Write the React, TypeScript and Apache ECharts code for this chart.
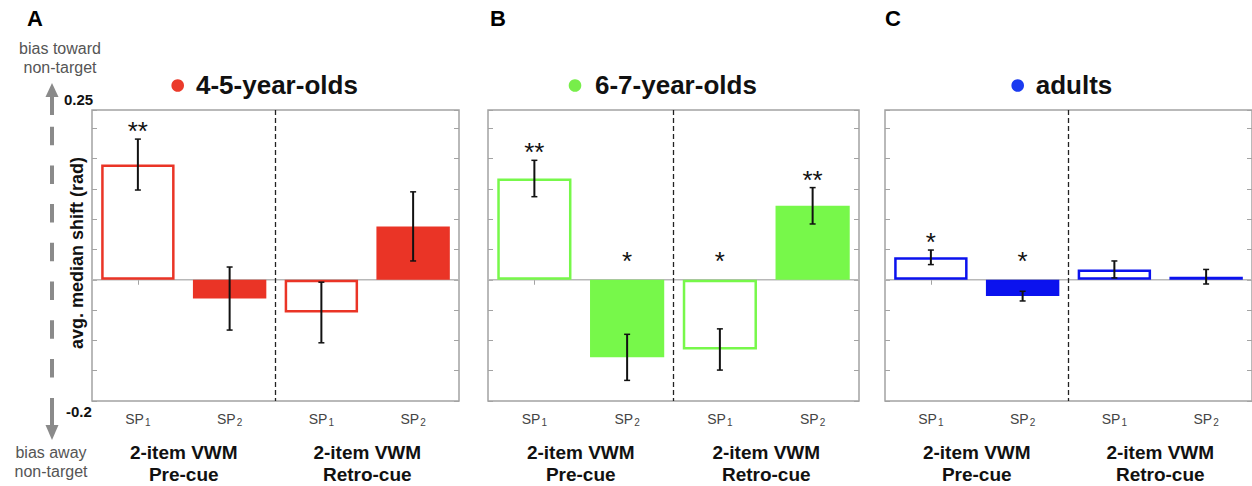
import { useEffect, useRef } from "react";
import * as echarts from "echarts";

// ---------- data ----------
const CATEGORIES = ["SP1", "SP2", "SP1", "SP2"];
const GROUP_LABELS = ["2-item VWM\nPre-cue", "2-item VWM\nRetro-cue"];
const FILLED = [false, true, false, true];

const PANEL_LETTERS = ["A", "B", "C"];
const PANEL_TITLES = ["4-5-year-olds", "6-7-year-olds", "adults"];

const MEANS_A = [0.19, -0.031, -0.054, 0.088];
const ERRS_A = [0.042, 0.052, 0.05, 0.057];
const SIG_A = ["**", "", "", ""];

const MEANS_B = [0.167, -0.128, -0.115, 0.122];
const ERRS_B = [0.03, 0.038, 0.034, 0.03];
const SIG_B = ["**", "*", "*", "**"];

const MEANS_C = [0.037, -0.027, 0.017, 0.005];
const ERRS_C = [0.012, 0.008, 0.014, 0.012];
const SIG_C = ["*", "*", "", ""];

const Y_MIN = -0.2;
const Y_MAX = 0.28;
const Y_STEP = 0.05;
const Y_TOP_LABEL = "0.25";
const Y_BOTTOM_LABEL = "-0.2";
const Y_NAME = "avg. median shift (rad)";
const BIAS_TOWARD = "bias toward\nnon-target";
const BIAS_AWAY = "bias away\nnon-target";

// ---------- styling / layout ----------
const FONT = "'Liberation Sans', Arial, Helvetica, sans-serif";
const BAR_COLORS = ["#EA3426", "#77F84A", "#0B12EE"];
const DOT_COLORS = ["#EB3B2B", "#77EE4A", "#1B3BF0"];
const GRID_TOP = 110;
const GRID_H = 291;
const GRIDS = [
  { left: 92, width: 367 },
  { left: 488, width: 371 },
  { left: 885, width: 367 },
];
const TITLE_DOT_X = [177.7, 575, 1017.7];
const TITLE_TEXT_X = [196, 595, 1035.7];
const LETTER_X = [27, 490, 885];
const AXIS_GRAY = "#a3a3a3";

const PANELS = [
  { means: MEANS_A, errs: ERRS_A, sig: SIG_A },
  { means: MEANS_B, errs: ERRS_B, sig: SIG_B },
  { means: MEANS_C, errs: ERRS_C, sig: SIG_C },
];

function buildOption() {
  const grid: any[] = [];
  const xAxis: any[] = [];
  const yAxis: any[] = [];
  const series: any[] = [];
  const graphic: any[] = [];

  const tick = {
    show: true,
    inside: true,
    length: 5,
    alignWithLabel: true,
    interval: (idx: number) => idx === 0,
    lineStyle: { color: AXIS_GRAY, width: 1 },
  };
  const yTick = { show: true, inside: true, length: 5, lineStyle: { color: AXIS_GRAY, width: 1 } };

  PANELS.forEach((p, i) => {
    const g = GRIDS[i];
    const color = BAR_COLORS[i];
    grid.push({
      left: g.left,
      top: GRID_TOP,
      width: g.width,
      height: GRID_H,
      show: true,
      borderColor: AXIS_GRAY,
      borderWidth: 1.5,
      backgroundColor: "#fff",
    });
    xAxis.push({
      type: "category",
      gridIndex: i,
      data: CATEGORIES,
      position: "bottom",
      axisLine: { show: false },
      axisTick: tick,
      axisLabel: {
        margin: 10,
        formatter: (v: string) => `{m|${v.slice(0, 2)}}{s|${v.slice(2)}}`,
        rich: {
          m: { fontSize: 14, color: "#444", fontFamily: FONT },
          s: { fontSize: 10, color: "#444", fontFamily: FONT, padding: [6, 0, 0, 1] },
        },
      },
    });
    xAxis.push({
      type: "category",
      gridIndex: i,
      data: CATEGORIES,
      position: "top",
      axisLine: { show: false },
      axisTick: tick,
      axisLabel: { show: false },
    });
    ["left", "right"].forEach((pos) => {
      yAxis.push({
        type: "value",
        gridIndex: i,
        position: pos,
        min: Y_MIN,
        max: Y_MAX,
        interval: Y_STEP,
        axisLine: { show: false },
        axisTick: yTick,
        axisLabel: { show: false },
        splitLine: { show: false },
      });
    });

    // zero line + group divider
    series.push({
      type: "custom",
      xAxisIndex: 2 * i,
      yAxisIndex: 2 * i,
      silent: true,
      z: 1,
      data: [[0, 0]],
      encode: { x: 0, y: 1 },
      renderItem: (params: any, api: any) => {
        const cs = params.coordSys;
        const y0 = api.coord([0, 0])[1];
        const xa = api.coord([1, 0])[0];
        const xb = api.coord([2, 0])[0];
        const xm = (xa + xb) / 2;
        return {
          type: "group",
          children: [
            {
              type: "line",
              shape: { x1: cs.x, y1: y0, x2: cs.x + cs.width, y2: y0 },
              style: { stroke: "#b8b8b8", lineWidth: 1.5 },
            },
            {
              type: "line",
              shape: { x1: xm, y1: cs.y, x2: xm, y2: cs.y + cs.height },
              style: { stroke: "#222", lineWidth: 1.3, lineDash: [5, 3] },
            },
          ],
        };
      },
    });

    // bars
    series.push({
      type: "bar",
      xAxisIndex: 2 * i,
      yAxisIndex: 2 * i,
      barWidth: "80%",
      z: 2,
      silent: true,
      data: p.means.map((v, k) => ({
        value: v,
        itemStyle: FILLED[k]
          ? { color, borderColor: color, borderWidth: 2 }
          : { color: "#fff", borderColor: color, borderWidth: 2.5 },
      })),
    });

    // error bars + significance
    series.push({
      type: "custom",
      xAxisIndex: 2 * i,
      yAxisIndex: 2 * i,
      silent: true,
      z: 3,
      data: p.means.map((m, k) => [k, m]),
      encode: { x: 0, y: 1 },
      renderItem: (params: any, api: any) => {
        const k = params.dataIndex;
        const m = p.means[k];
        const e = p.errs[k];
        const top = api.coord([k, m + e]);
        const bot = api.coord([k, m - e]);
        const y0 = api.coord([k, 0])[1];
        const x = top[0];
        const cap = 3;
        const children: any[] = [
          { type: "line", shape: { x1: x, y1: top[1], x2: x, y2: bot[1] }, style: { stroke: "#111", lineWidth: 2 } },
          { type: "line", shape: { x1: x - cap, y1: top[1], x2: x + cap, y2: top[1] }, style: { stroke: "#111", lineWidth: 1.5 } },
          { type: "line", shape: { x1: x - cap, y1: bot[1], x2: x + cap, y2: bot[1] }, style: { stroke: "#111", lineWidth: 1.5 } },
        ];
        const s = p.sig[k];
        if (s) {
          const starCenter = m > 0 ? top[1] - 14 : y0 - 25;
          children.push({
            type: "text",
            style: {
              text: s,
              x,
              y: starCenter + 6,
              align: "center",
              verticalAlign: "middle",
              fill: "#111",
              font: `26px ${FONT}`,
            },
          });
        }
        return { type: "group", children };
      },
    });

    // panel letter
    graphic.push({
      type: "text",
      x: LETTER_X[i],
      y: 18,
      style: { text: PANEL_LETTERS[i], font: `bold 22px ${FONT}`, fill: "#000", align: "left", verticalAlign: "middle" },
    });
    // title dot + text
    graphic.push({
      type: "circle",
      shape: { cx: TITLE_DOT_X[i], cy: 85.5, r: 6.3 },
      style: { fill: DOT_COLORS[i] },
    });
    graphic.push({
      type: "text",
      x: TITLE_TEXT_X[i],
      y: 85,
      style: { text: PANEL_TITLES[i], font: `bold 26px ${FONT}`, fill: "#111", align: "left", verticalAlign: "middle" },
    });
    // group labels
    GROUP_LABELS.forEach((lab, gi) => {
      graphic.push({
        type: "text",
        x: g.left + (g.width * (2 * gi + 1)) / 4,
        y: 463,
        style: {
          text: lab,
          font: `bold 19px ${FONT}`,
          lineHeight: 22,
          fill: "#111",
          align: "center",
          verticalAlign: "middle",
        },
      });
    });
  });

  // left annotation
  const ax = 52;
  const arrowGray = "#8a8a8a";
  graphic.push(
    {
      type: "text",
      x: 60,
      y: 57.5,
      style: { text: BIAS_TOWARD, font: `16px ${FONT}`, lineHeight: 19, fill: "#555", align: "center", verticalAlign: "middle" },
    },
    {
      type: "text",
      x: 51,
      y: 461.5,
      style: { text: BIAS_AWAY, font: `16px ${FONT}`, lineHeight: 19, fill: "#555", align: "center", verticalAlign: "middle" },
    },
    {
      type: "polygon",
      shape: { points: [[ax, 83], [ax - 6.5, 97], [ax + 6.5, 97]] },
      style: { fill: arrowGray },
    },
    {
      type: "line",
      shape: { x1: ax, y1: 96, x2: ax, y2: 115 },
      style: { stroke: arrowGray, lineWidth: 4 },
    },
    {
      type: "line",
      shape: { x1: ax, y1: 126.7, x2: ax, y2: 379 },
      style: { stroke: arrowGray, lineWidth: 4, lineDash: [18.5, 20.2] },
    },
    {
      type: "line",
      shape: { x1: ax, y1: 398, x2: ax, y2: 426 },
      style: { stroke: arrowGray, lineWidth: 4 },
    },
    {
      type: "polygon",
      shape: { points: [[ax, 440], [ax - 6.5, 425], [ax + 6.5, 425]] },
      style: { fill: arrowGray },
    },
    {
      type: "text",
      x: 64,
      y: 99,
      style: { text: Y_TOP_LABEL, font: `bold 15px ${FONT}`, fill: "#111", align: "left", verticalAlign: "middle" },
    },
    {
      type: "text",
      x: 66,
      y: 411.5,
      style: { text: Y_BOTTOM_LABEL, font: `bold 15px ${FONT}`, fill: "#111", align: "left", verticalAlign: "middle" },
    },
    {
      type: "text",
      x: 77,
      y: 253,
      rotation: Math.PI / 2,
      style: { text: Y_NAME, font: `bold 18px ${FONT}`, fill: "#111", align: "center", verticalAlign: "middle" },
    }
  );

  return {
    animation: false,
    backgroundColor: "#fff",
    grid,
    xAxis,
    yAxis,
    series,
    graphic,
  };
}

export default function App() {
  const ref = useRef<HTMLDivElement>(null);
  useEffect(() => {
    const chart = echarts.init(ref.current!, null, { renderer: "svg" });
    chart.setOption(buildOption() as any);
    return () => chart.dispose();
  }, []);
  return (
    <div
      ref={ref}
      style={{ position: "absolute", left: 0, top: 0, width: 1252, height: 486, background: "#fff" }}
    />
  );
}
